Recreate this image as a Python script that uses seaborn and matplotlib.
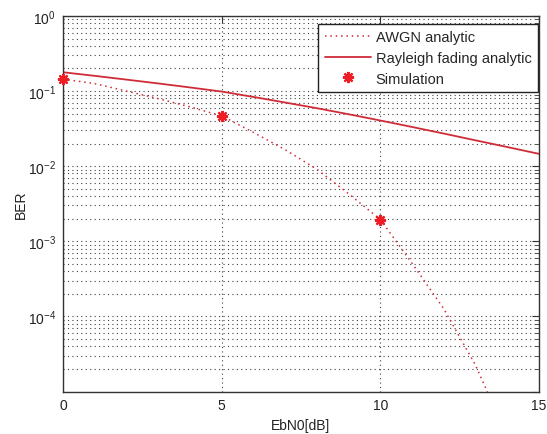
import matplotlib
matplotlib.use("Agg")
import matplotlib.pyplot as plt
import seaborn as sns
import pandas as pd
from matplotlib.ticker import LogLocator, NullLocator, FixedLocator, FixedFormatter

# Values
awgn_ebn0 = [0, 1, 2, 3, 4, 5, 6, 7, 8, 9, 10, 11, 12, 13, 14]
awgn_ber = [0.1445, 0.126, 0.100, 0.0794, 0.0617, 0.0468, 0.0282, 0.0166,
            0.0091, 0.0043, 0.00195, 5.1e-4, 1.26e-4, 2.24e-5, 2.5e-6]

rayleigh_ebn0 = [0, 1, 2, 3, 4, 5, 6, 7, 8, 9, 10, 11, 12, 13, 14, 15]
rayleigh_ber = [0.1782, 0.1596, 0.1422, 0.1265, 0.1119, 0.0986, 0.0836, 0.0705,
                0.0592, 0.0492, 0.0406, 0.0333, 0.0272, 0.0221, 0.0180, 0.0146]

sim_ebn0 = [0, 5, 10]
sim_ber = [0.145, 0.047, 0.0019]

y_ticks = [1e-5, 1e-4, 1e-3, 1e-2, 1e-1, 1]
y_ticklabels = ["", r"$10^{-4}$", r"$10^{-3}$", r"$10^{-2}$", r"$10^{-1}$", r"$10^{0}$"]

df_awgn = pd.DataFrame({"EbN0": awgn_ebn0, "BER": awgn_ber})
df_ray = pd.DataFrame({"EbN0": rayleigh_ebn0, "BER": rayleigh_ber})
df_sim = pd.DataFrame({"EbN0": sim_ebn0, "BER": sim_ber})

sns.set_style("white")
plt.rcParams["font.family"] = ["Liberation Sans", "DejaVu Sans"]
plt.rcParams["mathtext.fontset"] = "custom"
plt.rcParams["mathtext.rm"] = "Liberation Sans"
plt.rcParams["font.size"] = 10

fig = plt.figure(figsize=(5.47, 4.35), dpi=100)
ax = fig.add_axes([63 / 547, 1 - 392.5 / 435, 476 / 547, 375.5 / 435])

line_red = "#cf2c38"
sns.lineplot(data=df_awgn, x="EbN0", y="BER", ax=ax, color=line_red,
             linestyle=(0, (1, 2.5)), linewidth=1.1, label="AWGN analytic")
sns.lineplot(data=df_ray, x="EbN0", y="BER", ax=ax, color=line_red,
             linewidth=1.3, label="Rayleigh fading analytic")
ax.plot(df_sim["EbN0"], df_sim["BER"], linestyle="none", marker=(8, 2, 0),
        markersize=8, color="#ee1c24", markeredgewidth=1.6,
        label="Simulation", clip_on=False, zorder=5)

ax.set_yscale("log")
ax.set_xlim(0, 15)
ax.set_ylim(1e-5, 1)
ax.xaxis.set_major_locator(FixedLocator([0, 5, 10, 15]))
ax.xaxis.set_minor_locator(NullLocator())
ax.yaxis.set_major_locator(FixedLocator(y_ticks))
ax.yaxis.set_major_formatter(FixedFormatter(y_ticklabels))
ax.yaxis.set_minor_locator(LogLocator(base=10, subs=range(2, 10), numticks=20))

grid_kw = dict(linestyle=(0, (1, 3)), color="#404040", linewidth=0.8)
ax.grid(True, which="major", axis="both", **grid_kw)
ax.grid(True, which="minor", axis="y", **grid_kw)

ax.tick_params(which="both", direction="in", top=True, right=True,
               colors="#333333", labelcolor="#222222")
ax.tick_params(which="major", length=5, width=0.8, pad=5)
ax.tick_params(which="minor", length=3, width=0.6)
for s in ax.spines.values():
    s.set_color("#333333")
    s.set_linewidth(1.0)

ax.set_xlabel("EbN0[dB]", fontsize=10, labelpad=4, color="#222222")
ax.set_ylabel("BER", fontsize=10, labelpad=0, color="#222222")

leg = ax.legend(loc="upper right", bbox_to_anchor=(0.998, 0.979),
                borderaxespad=0, fontsize=10.5, handlelength=3.2,
                handletextpad=0.3, labelspacing=0.45, borderpad=0.45,
                fancybox=False, frameon=True, framealpha=1)
leg.get_frame().set_edgecolor("#222222")
leg.get_frame().set_linewidth(1.0)

fig.savefig("out.png", dpi=100, facecolor="white")
